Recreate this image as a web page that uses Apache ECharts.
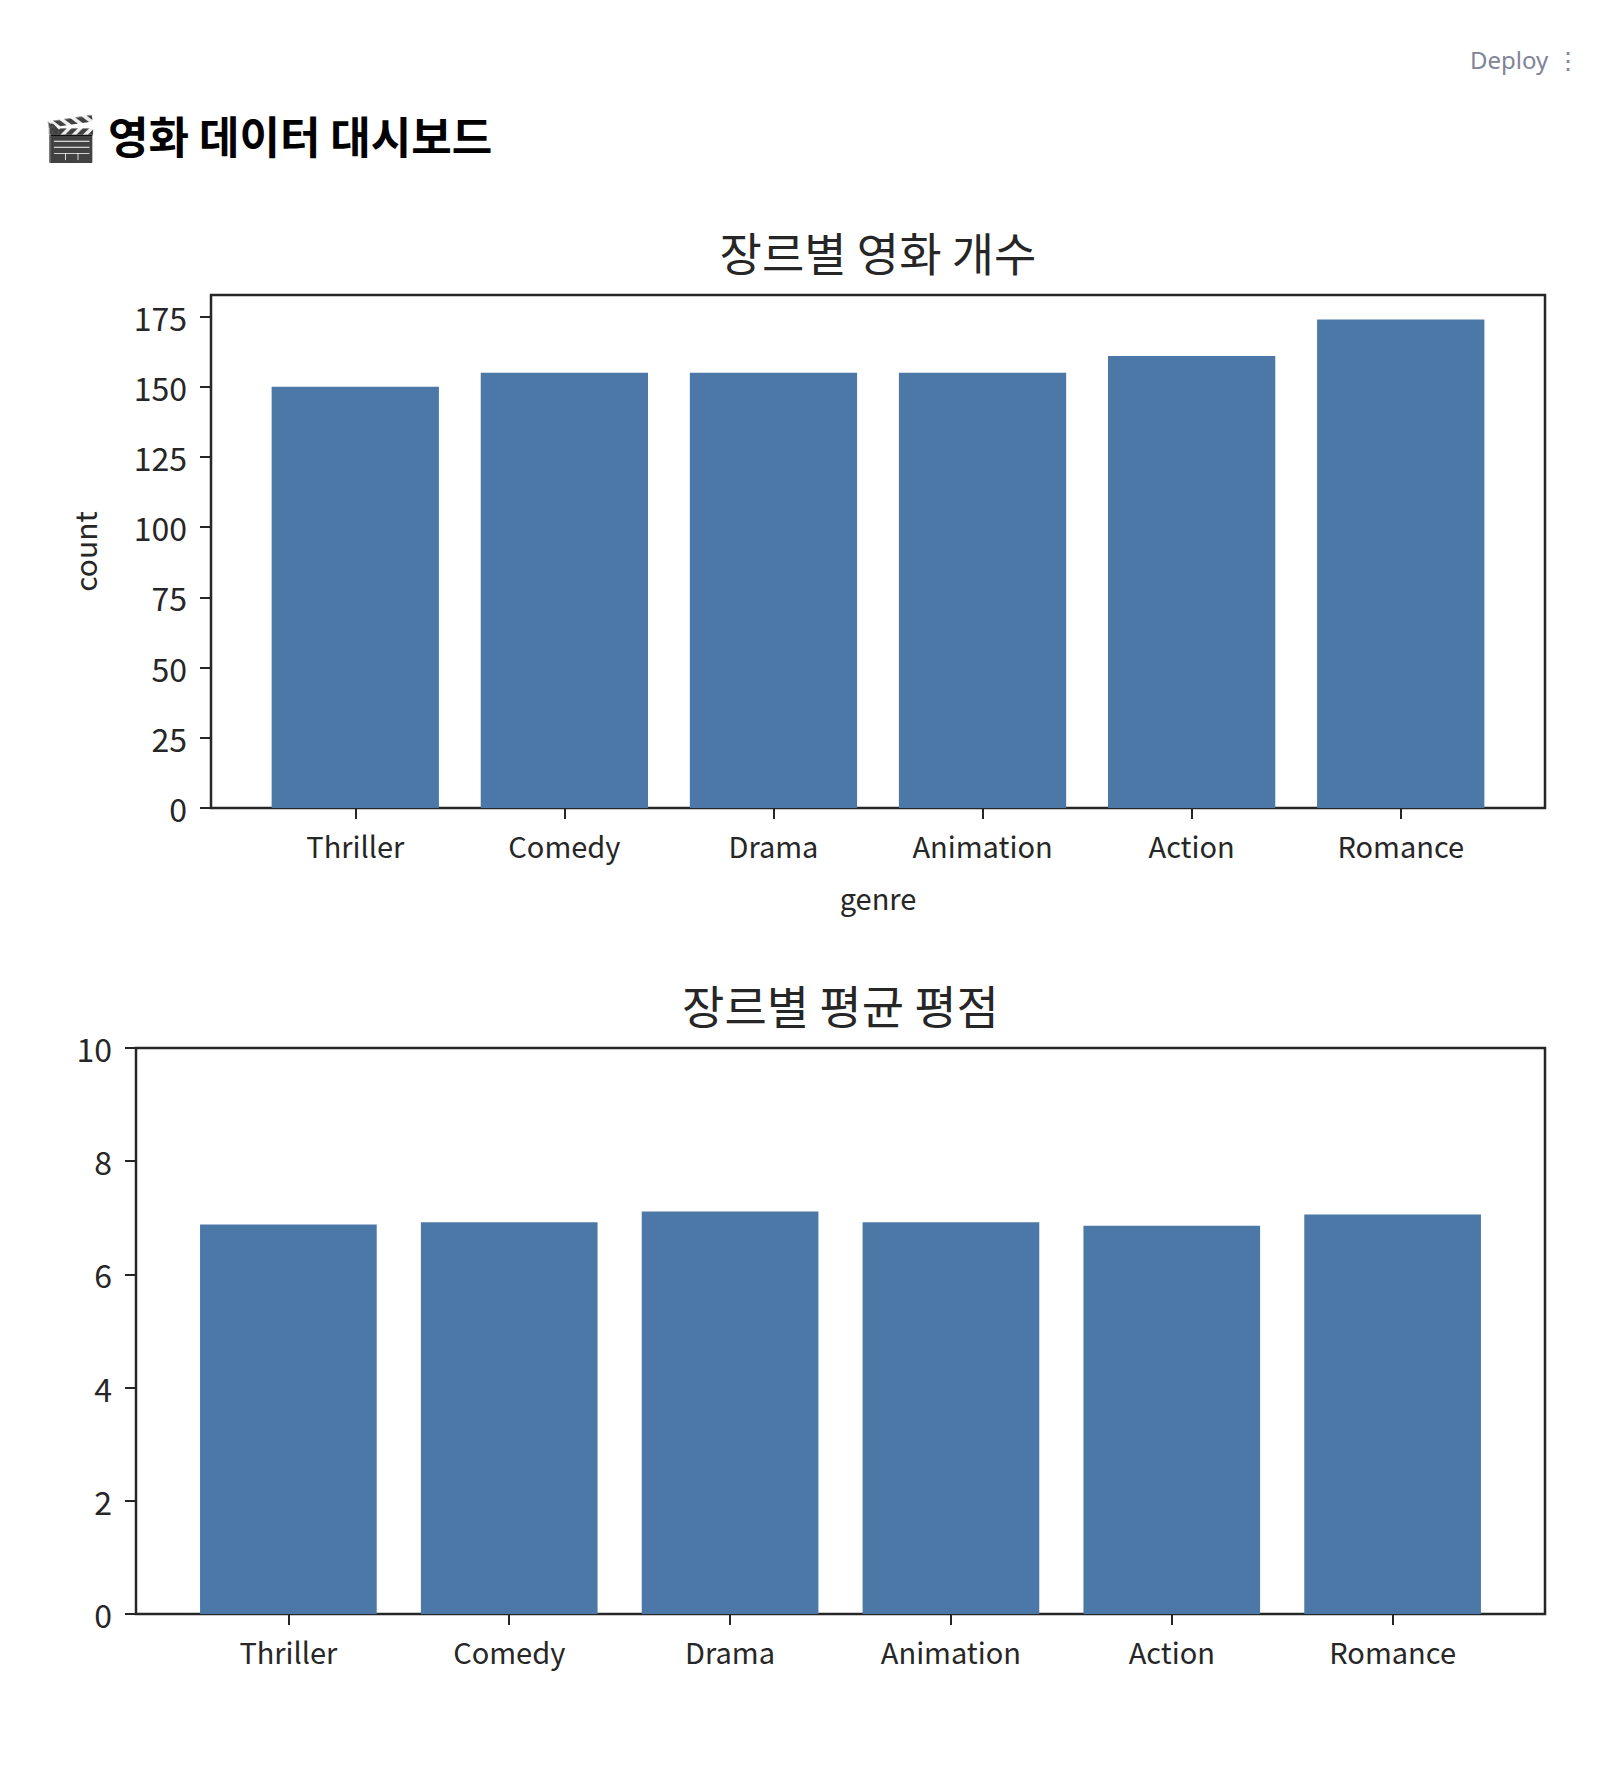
<!DOCTYPE html>
<html>
<head>
<meta charset="utf-8">
<script src="https://cdn.jsdelivr.net/npm/echarts@6/dist/echarts.min.js"></script>
<style>
  html, body { margin: 0; padding: 0; background: #fff; }
  #page { position: relative; width: 1616px; height: 1774px; }
  #deploy { position: absolute; left: 1470px; top: 43px; font-family: "Noto Sans", sans-serif; font-size: 24px; color: #808495; }
  #deploy span { margin-left: 8px; }
  #heading { position: absolute; left: 43px; top: 105px; font-family: "Noto Sans CJK KR", "Noto Sans", sans-serif; font-weight: 700; font-size: 44px; color: #000; line-height: 60px; white-space: nowrap; }
  #chart { position: absolute; left: 0; top: 0; width: 1616px; height: 1774px; }
</style>
</head>
<body>
<div id="page">
  <div id="chart"></div>
  <div id="deploy">Deploy<span>⋮</span></div>
  <div id="heading">🎬 영화 데이터 대시보드</div>
</div>
<script>
const categories = ['Thriller', 'Comedy', 'Drama', 'Animation', 'Action', 'Romance'];
const countValues = [150, 155, 155, 155, 161, 174];
const ratingValues = [6.88, 6.92, 7.11, 6.92, 6.86, 7.06];
const countTicks = [0, 25, 50, 75, 100, 125, 150, 175];
const ratingTicks = [0, 2, 4, 6, 8, 10];
const countTitle = '장르별 영화 개수';
const ratingTitle = '장르별 평균 평점';
const xName = 'genre';
const yName = 'count';

const FONT = '"Noto Sans CJK KR", "Noto Sans", sans-serif';
const INK = '#262626';
const BAR = '#4c78a8';
const XMIN = -0.69, XMAX = 5.69;

const g1 = { left: 211, top: 295, width: 1334, height: 513 };
const g2 = { left: 136, top: 1048, width: 1409, height: 566 };
const bw1 = g1.width / (XMAX - XMIN) * 0.8;
const bw2 = g2.width / (XMAX - XMIN) * 0.8;
const idx = categories.map((c, i) => i);

function xAxisFor(gridIndex, withName) {
  return {
    type: 'value', gridIndex, min: XMIN, max: XMAX,
    axisLine: { show: false, onZero: false },
    splitLine: { show: false },
    axisTick: { show: true, customValues: idx, length: 11, lineStyle: { color: INK, width: 2 } },
    axisLabel: { customValues: idx, formatter: v => categories[Math.round(v)], margin: 22,
      fontFamily: FONT, fontSize: 29, color: INK },
    name: withName ? xName : '', nameLocation: 'middle', nameGap: 74,
    nameTextStyle: { fontFamily: FONT, fontSize: 29, color: INK }
  };
}
function yAxisFor(gridIndex, max, ticks, withName) {
  return {
    type: 'value', gridIndex, min: 0, max,
    axisLine: { show: false, onZero: false },
    splitLine: { show: false },
    axisTick: { show: true, customValues: ticks, length: 11, lineStyle: { color: INK, width: 2 } },
    axisLabel: { customValues: ticks, margin: 24, fontFamily: FONT, fontSize: 32, color: INK },
    name: withName ? yName : '', nameLocation: 'middle', nameGap: 112, nameRotate: 90,
    nameTextStyle: { fontFamily: FONT, fontSize: 30, color: INK }
  };
}

const chart = echarts.init(document.getElementById('chart'), null, { renderer: 'svg', width: 1616, height: 1774 });
chart.setOption({
  backgroundColor: '#fff',
  animation: false,
  grid: [
    Object.assign({ show: true, borderColor: INK, borderWidth: 2.5, backgroundColor: 'transparent' }, g1),
    Object.assign({ show: true, borderColor: INK, borderWidth: 2.5, backgroundColor: 'transparent' }, g2)
  ],
  xAxis: [xAxisFor(0, true), xAxisFor(1, false)],
  yAxis: [yAxisFor(0, 174 * 1.05, countTicks, true), yAxisFor(1, 10, ratingTicks, false)],
  series: [
    { type: 'bar', xAxisIndex: 0, yAxisIndex: 0, barWidth: bw1, itemStyle: { color: BAR },
      data: countValues.map((v, i) => [i, v]) },
    { type: 'bar', xAxisIndex: 1, yAxisIndex: 1, barWidth: bw2, itemStyle: { color: BAR },
      data: ratingValues.map((v, i) => [i, v]) }
  ],
  graphic: [
    { type: 'text', x: g1.left + g1.width / 2, y: 251,
      style: { text: countTitle, fontFamily: FONT, fontSize: 46, fill: INK, align: 'center', verticalAlign: 'middle' } },
    { type: 'text', x: g2.left + g2.width / 2, y: 1004,
      style: { text: ratingTitle, fontFamily: FONT, fontSize: 46, fill: INK, align: 'center', verticalAlign: 'middle' } }
  ]
});
</script>
</body>
</html>
